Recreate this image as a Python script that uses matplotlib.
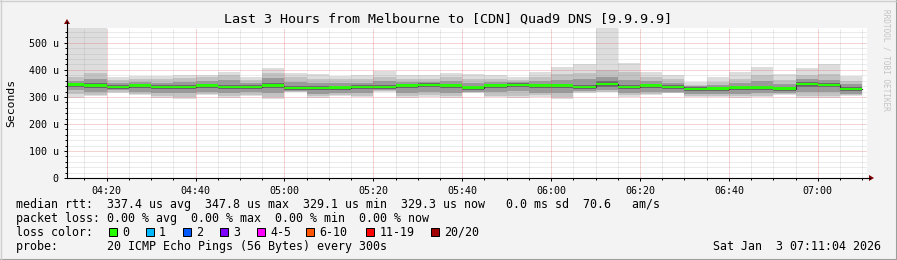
import matplotlib
matplotlib.use("Agg")
import matplotlib.pyplot as plt
from matplotlib.patches import Rectangle, Polygon
from matplotlib.lines import Line2D
import numpy as np

# ---------------- data ----------------
interval_start = ["04:10", "04:15", "04:20", "04:25", "04:30", "04:35", "04:40", "04:45",
                  "04:50", "04:55", "05:00", "05:05", "05:10", "05:15", "05:20", "05:25",
                  "05:30", "05:35", "05:40", "05:45", "05:50", "05:55", "06:00", "06:05",
                  "06:10", "06:15", "06:20", "06:25", "06:30", "06:35", "06:40", "06:45",
                  "06:50", "06:55", "07:00", "07:05"]
interval_end = "07:10"

# median rtt in microseconds
median = [345, 342, 337, 342, 337, 337, 342, 337, 337, 342, 333, 333, 334, 337, 337, 341,
          344, 341, 334, 341, 344, 341, 341, 337, 348, 337, 341, 337, 329, 330, 334, 334,
          330, 348, 344, 329.3]
# smoke: outer (min..max) and inner bands
ping_max = [560, 560, 373, 378, 379, 381, 381, 393, 375, 406, 390, 385, 379, 381, 397, 381,
            381, 390, 385, 381, 375, 391, 409, 422, 560, 427, 391, 381, 354, 372, 391, 412,
            384, 406, 421, 379]
ping_min = [297, 302, 316, 306, 297, 293, 306, 297, 302, 293, 318, 297, 302, 299, 320, 295,
            301, 295, 316, 299, 297, 301, 293, 316, 318, 301, 307, 314, 299, 301, 297, 301,
            306, 297, 297, 302]
band2_hi = [372, 390, 362, 368, 368, 370, 372, 380, 362, 390, 372, 368, 365, 366, 375, 366,
            368, 372, 366, 368, 362, 372, 385, 390, 400, 392, 372, 366, 345, 355, 368, 380,
            362, 380, 385, 360]
band2_lo = [310, 306, 320, 310, 305, 300, 312, 304, 308, 300, 320, 304, 308, 305, 322, 302,
            308, 302, 318, 305, 304, 306, 300, 318, 320, 306, 312, 316, 304, 305, 302, 305,
            310, 304, 304, 306]
band3_hi = [360, 368, 352, 356, 352, 354, 358, 362, 350, 370, 355, 352, 350, 352, 358, 355,
            356, 358, 350, 355, 354, 358, 362, 365, 375, 362, 358, 352, 340, 345, 352, 358,
            348, 365, 362, 348]
band3_lo = [325, 320, 324, 318, 316, 314, 320, 314, 318, 314, 322, 312, 314, 315, 324, 316,
            320, 314, 320, 318, 322, 316, 314, 322, 326, 316, 320, 320, 312, 312, 312, 314,
            314, 318, 318, 312]
band4_hi = [352, 352, 344, 348, 343, 343, 348, 345, 343, 350, 340, 340, 341, 344, 345, 347,
            350, 348, 340, 347, 350, 347, 348, 345, 358, 345, 348, 344, 335, 336, 340, 340,
            337, 355, 350, 336]
band4_lo = [336, 332, 330, 332, 328, 328, 332, 328, 328, 332, 325, 324, 326, 328, 328, 332,
            335, 332, 326, 332, 336, 332, 332, 328, 338, 328, 332, 328, 322, 322, 326, 326,
            322, 338, 335, 322]

loss_labels = ["0", "1", "2", "3", "4-5", "6-10", "11-19", "20/20"]
loss_colors = ["#26ff00", "#00b8ff", "#0059ff", "#7e00ff", "#ff00ff", "#ff5500", "#ff0000", "#a10000"]

title = "Last 3 Hours from Melbourne to [CDN] Quad9 DNS [9.9.9.9]"
y_ticks = [0, 100, 200, 300, 400, 500]
y_tick_labels = ["0", "100 u", "200 u", "300 u", "400 u", "500 u"]
x_tick_labels = ["04:20", "04:40", "05:00", "05:20", "05:40", "06:00", "06:20", "06:40", "07:00"]
line_rtt = "median rtt:  337.4 us avg  347.8 us max  329.1 us min  329.3 us now   0.0 ms sd  70.6   am/s"
line_loss = "packet loss: 0.00 % avg  0.00 % max  0.00 % min  0.00 % now"
line_probe = "probe:       20 ICMP Echo Pings (56 Bytes) every 300s"
stamp = "Sat Jan  3 07:11:04 2026"

# ---------------- layout ----------------
W, H, DPI = 897, 260, 100
MONO = "DejaVu Sans Mono"
plt.rcParams["font.family"] = MONO


def tmin(s):
    h, m = s.split(":")
    return int(h) * 60 + int(m)


edges = np.array([tmin(s) for s in interval_start] + [tmin(interval_end)], dtype=float)


def ext(a):
    a = list(a)
    return np.array(a + [a[-1]], dtype=float)


fig = plt.figure(figsize=(W / DPI, H / DPI), dpi=DPI, facecolor="#f3f3f3")
ax = fig.add_axes([67 / W, (H - 178) / H, 800 / W, 150 / H])
ax.set_facecolor("white")

x0 = tmin("04:11") + 4 / 60.0
ax.set_xlim(x0, x0 + 180)
ax.set_ylim(0, 555)

bands = [(ping_min, ping_max, "#dddddd"),
         (band2_lo, band2_hi, "#c2c2c2"),
         (band3_lo, band3_hi, "#9a9a9a"),
         (band4_lo, band4_hi, "#6a6a6a")]
for lo, hi, col in bands:
    ax.fill_between(edges, ext(lo), ext(hi), step="post", color=col, lw=0, zorder=1)

med = ext(median)
ax.step(edges, med, where="post", color="#202020", lw=0.8, zorder=2)
ax.fill_between(edges, med - 4.0, med + 5.0, step="post", color=loss_colors[0], lw=0, zorder=3)

# grid (drawn on top like rrdtool)
for v in range(20, 556, 20):
    if v % 100 == 0:
        ax.axhline(v, color="#de5050", alpha=0.5, lw=0.72, ls=(0, (1, 1)), zorder=4)
    else:
        ax.axhline(v, color="#8f8f8f", alpha=0.35, lw=0.72, ls=(0, (1, 1)), zorder=4)
for t in range(255, 432, 5):
    if t % 20 == 0:
        ax.axvline(t, color="#de5050", alpha=0.5, lw=0.72, ls=(0, (1, 1)), zorder=4)
    else:
        ax.axvline(t, color="#8f8f8f", alpha=0.35, lw=0.72, ls=(0, (1, 1)), zorder=4)

# ticks
ax.set_yticks(y_ticks)
ax.set_yticklabels(y_tick_labels)
ax.set_yticks(list(range(0, 556, 20)), minor=True)
xt = [tmin(s) for s in x_tick_labels]
ax.set_xticks(xt)
ax.set_xticklabels(x_tick_labels)
ax.set_xticks(list(range(255, 432, 5)), minor=True)
ax.tick_params(axis="both", which="major", direction="out", length=2.5, width=0.72,
               labelsize=7.2, color="black")
ax.tick_params(axis="both", which="minor", direction="out", length=1.5, width=0.72, color="black")
ax.tick_params(axis="y", which="major", pad=3.5)
ax.tick_params(axis="x", which="major", pad=3.0)

for s in ["top", "right"]:
    ax.spines[s].set_visible(False)
for s in ["left", "bottom"]:
    ax.spines[s].set_linewidth(0.8)
    ax.spines[s].set_color("black")
    ax.spines[s].set_zorder(6)


def fx(px):
    return px / W


def fy(py):
    return 1 - py / H


# axis extensions and arrows
fig.add_artist(Line2D([fx(67), fx(67)], [fy(28), fy(22)], color="black", lw=0.8))
fig.add_artist(Line2D([fx(867), fx(870)], [fy(178), fy(178)], color="black", lw=0.8))
fig.add_artist(Polygon([[fx(64), fy(24)], [fx(70), fy(24)], [fx(67), fy(19)]],
                       closed=True, color="#7f0000", lw=0))
fig.add_artist(Polygon([[fx(869), fy(175)], [fx(869), fy(181)], [fx(874), fy(178)]],
                       closed=True, color="#7f0000", lw=0))

# titles
fig.text(fx(448), fy(19), title, ha="center", va="center", fontsize=9.6, family=MONO)
fig.text(fx(11), fy(103), "Seconds", ha="center", va="center", rotation=90, fontsize=8.2, family=MONO)
fig.text(fx(886), fy(60), "RRDTOOL / TOBI OETIKER", ha="center", va="center", rotation=270,
         fontsize=5.6, family=MONO, color="#c4c4c4")

# legend text
FS = 8.4
fig.text(fx(16), fy(204.3), line_rtt, ha="left", va="center", fontsize=FS, family=MONO)
fig.text(fx(16), fy(218.3), line_loss, ha="left", va="center", fontsize=FS, family=MONO)
fig.text(fx(16), fy(232.3), "loss color:", ha="left", va="center", fontsize=FS, family=MONO)
fig.text(fx(16), fy(246.3), line_probe, ha="left", va="center", fontsize=FS, family=MONO)
fig.text(fx(881), fy(246.3), stamp, ha="right", va="center", fontsize=FS, family=MONO)

box_x = [108.5, 145.5, 182.5, 219.5, 256.5, 306.0, 366.0, 431.0]
for bx, lab, col in zip(box_x, loss_labels, loss_colors):
    fig.add_artist(Rectangle((fx(bx), fy(236)), 8 / W, 8 / H, facecolor=col,
                             edgecolor="black", lw=0.72, transform=fig.transFigure))
    fig.text(fx(bx + 13.5), fy(232.3), lab, ha="left", va="center", fontsize=FS, family=MONO)

# frame shading
fig.add_artist(Line2D([0, 1], [fy(259.5), fy(259.5)], color="#9e9e9e", lw=1.5))
fig.add_artist(Line2D([fx(896.5), fx(896.5)], [0, 1], color="#9e9e9e", lw=1.5))
fig.add_artist(Line2D([0, 1], [fy(0.5), fy(0.5)], color="#cfcfcf", lw=1.0))
fig.add_artist(Line2D([fx(0.5), fx(0.5)], [0, 1], color="#cfcfcf", lw=1.0))

fig.savefig("out.png", dpi=DPI, facecolor=fig.get_facecolor())
